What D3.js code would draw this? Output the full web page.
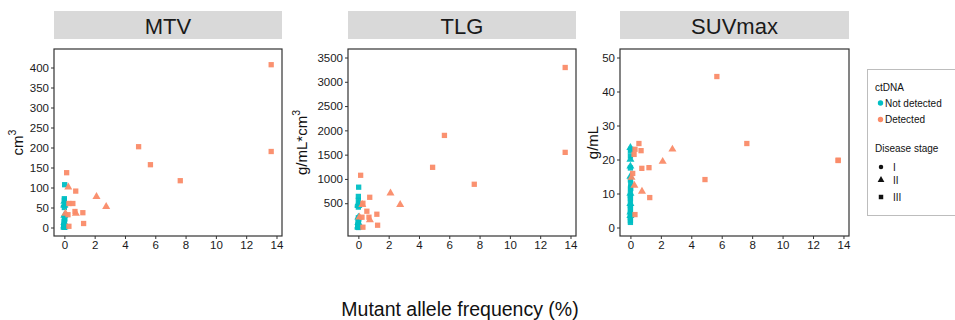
<!DOCTYPE html>
<html><head><meta charset="utf-8">
<script src="https://cdn.jsdelivr.net/npm/d3@7"></script>
<style>body{margin:0;background:#fff}text{font-family:"Liberation Sans",Arial,sans-serif}</style>
</head><body><svg id="c" width="955" height="320"></svg>
<script>
// ---- data ----
const metrics = ["MTV", "TLG", "SUVmax"];
const yTitles = ["cm", "g/mL*cm", "g/mL"];
const xTicks = [0, 2, 4, 6, 8, 10, 12, 14];
const yTicksMTV = [0, 50, 100, 150, 200, 250, 300, 350, 400];
const yTicksTLG = [500, 1000, 1500, 2000, 2500, 3000, 3500];
const yTicksSUV = [0, 10, 20, 30, 40, 50];
const ctdnaLevels = ["Not detected", "Detected"];
const stageLevels = ["I", "II", "III"];

// Detected patients
const detMAF   = [13.65, 13.65, 4.90, 5.68, 7.65, 0.15, 2.12, 2.76, 0.26, 0.75, 0.30, 0.56, 0.70, 0.76, 0.07, 0.24, 1.22, 1.27, 0.30];
const detStage = ["III","III","III","III","III","III","II","II","II","III","III","III","III","II","II","III","III","III","III"];
const detMTV   = [407, 190, 202, 157, 117, 137, 77, 52, 101, 91, 60, 60, 40, 35, 35, 32, 37, 10, 3];
const detTLG   = [3294, 1547, 1239, 1896, 890, 1075, 705, 471, 470, 622, 499, 335, 212, 156, 212, 212, 273, 47, 6];
const detSUV   = [19.7, 19.8, 14.1, 44.4, 24.7, 15.9, 19.4, 23.0, 12.4, 17.4, 23.0, 24.7, 22.6, 10.6, 14.7, 21.5, 17.6, 8.8, 3.8];

// Not detected patients
const ndMAF   = [0.02, 0, 0, 0, 0, 0, 0, 0, 0.02, 0, 0, 0, 0, 0, 0, 0, 0, 0, 0, 0, 0, 0, 0, 0, 0, 0, 0.02, 0, 0, 0];
const ndStage = ["III","III","III","II","II","II","III","III","III","I","III","II","III","I","III","II","III","I","III","III","II","III","I","III","III","II","III","III","III","II"];
const ndMTV   = [107, 72, 68, 65, 58, 55, 50, 25, 22, 18, 15, 12, 10, 8, 6, 5, 4, 3, 2, 2, 1, 1, 0.5, 0.5, 0.3, 30, 20, 14, 9, 3];
const ndTLG   = [830, 640, 560, 500, 470, 450, 420, 200, 180, 150, 120, 100, 90, 70, 55, 40, 30, 25, 15, 10, 8, 5, 3, 2, 1, 210, 160, 110, 60, 20];
const ndSUV   = [23.0, 22.5, 21.0, 20.0, 23.5, 18.0, 17.5, 14.0, 13.0, 12.0, 11.0, 10.0, 9.5, 9.0, 8.0, 7.0, 6.5, 6.0, 5.0, 4.0, 3.5, 3.0, 2.5, 2.0, 1.5, 15.0, 11.5, 8.5, 5.5, 4.5];

// ---- build ----
const rows = [];
ndMAF.forEach((m, i) => rows.push({maf: m, ctdna: "Not detected", stage: ndStage[i], MTV: ndMTV[i], TLG: ndTLG[i], SUVmax: ndSUV[i]}));
detMAF.forEach((m, i) => rows.push({maf: m, ctdna: "Detected", stage: detStage[i], MTV: detMTV[i], TLG: detTLG[i], SUVmax: detSUV[i]}));

const color = d3.scaleOrdinal().domain(ctdnaLevels).range(["#00BFC4", "#FA8B68"]);
const shape = d3.scaleOrdinal().domain(stageLevels).range([d3.symbolCircle, d3.symbolTriangle, d3.symbolSquare]);
const shapeSize = {I: 22, II: 28, III: 28};

const svg = d3.select("#c");
const panels = [
  {x0: 54, x1: 282, yDomain: [-21.25, 446.25], ticks: yTicksMTV, titleX: 23},
  {x0: 348, x1: 576, yDomain: [-175, 3675], ticks: yTicksTLG, titleX: 307},
  {x0: 620, x1: 849, yDomain: [-2.5, 52.5], ticks: yTicksSUV, titleX: 598}
];
const pTop = 49, pBottom = 236;
const xDomain = [-0.684, 14.364];
const fmt = d3.format("d");

panels.forEach((p, k) => {
  const metric = metrics[k];
  const x = d3.scaleLinear().domain(xDomain).range([p.x0, p.x1]);
  const y = d3.scaleLinear().domain(p.yDomain).range([pBottom, pTop]);
  svg.append("rect").attr("x", p.x0).attr("y", 11).attr("width", p.x1 - p.x0).attr("height", 28).attr("fill", "#D9D9D9");
  svg.append("text").attr("x", (p.x0 + p.x1) / 2).attr("y", 33.5).attr("text-anchor", "middle")
    .attr("font-size", 22).attr("fill", "#1a1a1a").text(metric);
  const gx = svg.append("g").attr("transform", `translate(0,${pBottom})`)
    .call(d3.axisBottom(x).tickValues(xTicks).tickFormat(fmt).tickSize(3).tickPadding(2));
  const gy = svg.append("g").attr("transform", `translate(${p.x0},0)`)
    .call(d3.axisLeft(y).tickValues(p.ticks).tickFormat(fmt).tickSize(3).tickPadding(2));
  [gx, gy].forEach(g => {
    g.select(".domain").remove();
    g.selectAll(".tick line").attr("stroke", "#333");
    g.selectAll(".tick text").attr("font-size", 11.5).attr("fill", "#1a1a1a")
      .style("font-family", '"Liberation Sans",Arial,sans-serif');
  });
  svg.append("g").selectAll("path").data(rows).join("path")
    .attr("transform", d => `translate(${x(d.maf)},${y(d[metric])})`)
    .attr("d", d => d3.symbol().type(shape(d.stage)).size(shapeSize[d.stage])())
    .attr("fill", d => color(d.ctdna)).attr("fill-opacity", 0.95);
  svg.append("rect").attr("x", p.x0).attr("y", pTop).attr("width", p.x1 - p.x0).attr("height", pBottom - pTop)
    .attr("fill", "none").attr("stroke", "#333").attr("stroke-width", 1.2);
  const t = svg.append("text").attr("transform", `translate(${p.titleX},${(pTop + pBottom) / 2}) rotate(-90)`)
    .attr("text-anchor", "middle").attr("font-size", 15).attr("fill", "#111");
  t.append("tspan").text(yTitles[k]);
  if (k < 2) t.append("tspan").attr("dy", -7).attr("font-size", 10.5).text("3");
});

svg.append("text").attr("x", 460).attr("y", 316).attr("text-anchor", "middle")
  .attr("font-size", 19.5).attr("fill", "#111").text("Mutant allele frequency (%)");

const lg = svg.append("g");
lg.append("rect").attr("x", 867.5).attr("y", 69.5).attr("width", 100).attr("height", 146)
  .attr("fill", "#fff").attr("stroke", "#BDBDBD").attr("stroke-width", 1);
lg.append("text").attr("x", 875).attr("y", 91).attr("font-size", 10).attr("fill", "#111").text("ctDNA");
ctdnaLevels.forEach((c, i) => {
  lg.append("circle").attr("cx", 880.5).attr("cy", 103 + i * 16.5).attr("r", 2.7).attr("fill", color(c));
  lg.append("text").attr("x", 885).attr("y", 106.5 + i * 16.5).attr("font-size", 10).attr("fill", "#111").text(c);
});
lg.append("text").attr("x", 875).attr("y", 152).attr("font-size", 10).attr("fill", "#111").text("Disease stage");
const stY = [167, 180, 197];
stageLevels.forEach((s, i) => {
  lg.append("path").attr("transform", `translate(881,${stY[i]})`)
    .attr("d", d3.symbol().type(shape(s)).size(s === "I" ? 16 : 20)()).attr("fill", "#111");
  lg.append("text").attr("x", 893).attr("y", stY[i] + 3.5).attr("font-size", 10).attr("fill", "#111").text(s);
});
</script></body></html>
